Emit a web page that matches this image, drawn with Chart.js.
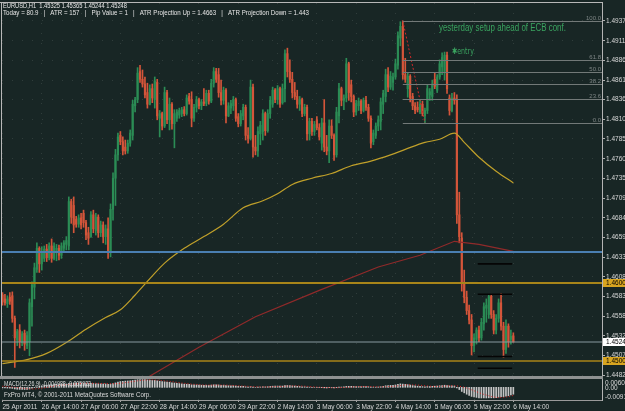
<!DOCTYPE html>
<html>
<head>
<meta charset="utf-8">
<title>EURUSD H1</title>
<script src="https://cdn.jsdelivr.net/npm/chart.js@4.4.1/dist/chart.umd.min.js"></script>
<style>
  html, body { margin: 0; padding: 0; background: #182625; }
  #wrap { position: relative; width: 625px; height: 411px; overflow: hidden; background: #182625; }
  #main { position: absolute; left: 0; top: 0; }
  #macd { position: absolute; left: 0; top: 379px; }
</style>
</head>
<body>
<div id="wrap">
  <canvas id="main" width="625" height="379"></canvas>
  <canvas id="macd" width="625" height="32"></canvas>
</div>
<script>
// Hourly EURUSD bars, 25 Apr 2011 22:00 .. 6 May 2011 14:00
const opens = [
  1.4585, 1.4580, 1.4574, 1.4582, 1.4584, 1.4555, 1.4527, 1.4540, 1.4524, 1.4536,
  1.4520, 1.4525, 1.4570, 1.4595, 1.4618, 1.4645, 1.4625, 1.4632, 1.4644, 1.4633,
  1.4648, 1.4632, 1.4640, 1.4645, 1.4636, 1.4645, 1.4650, 1.4648, 1.4705, 1.4700,
  1.4682, 1.4676, 1.4684, 1.4690, 1.4678, 1.4665, 1.4660, 1.4688, 1.4668, 1.4685,
  1.4665, 1.4675, 1.4660, 1.4670, 1.4640, 1.4695, 1.4735, 1.4765, 1.4790, 1.4782,
  1.4775, 1.4770, 1.4780, 1.4790, 1.4828, 1.4836, 1.4872, 1.4862, 1.4856, 1.4845,
  1.4830, 1.4850, 1.4836, 1.4858, 1.4812, 1.4818, 1.4802, 1.4845, 1.4810, 1.4830,
  1.4805, 1.4812, 1.4816, 1.4818, 1.4823, 1.4818, 1.4840, 1.4836, 1.4812, 1.4826,
  1.4836, 1.4828, 1.4833, 1.4831, 1.4844, 1.4834, 1.4857, 1.4872, 1.4868, 1.4845,
  1.4835, 1.4848, 1.4815, 1.4825, 1.4828, 1.4836, 1.4814, 1.4805, 1.4815, 1.4826,
  1.4790, 1.4786, 1.4852, 1.4775, 1.4770, 1.4792, 1.4795, 1.4818, 1.4796, 1.4818,
  1.4830, 1.4848, 1.4836, 1.4850, 1.4832, 1.4850, 1.4895, 1.4872, 1.4862, 1.4845,
  1.4840, 1.4830, 1.4836, 1.4818, 1.4826, 1.4792, 1.4808, 1.4795, 1.4810, 1.4800,
  1.4780, 1.4806, 1.4775, 1.4770, 1.4802, 1.4790, 1.4765, 1.4815, 1.4850, 1.4835,
  1.4838, 1.4882, 1.4855, 1.4840, 1.4820, 1.4828, 1.4834, 1.4822, 1.4835, 1.4826,
  1.4812, 1.4782, 1.4790, 1.4802, 1.4808, 1.4830, 1.4840, 1.4868, 1.4852, 1.4858,
  1.4865, 1.4880, 1.4915, 1.4930, 1.4868, 1.4850, 1.4866, 1.4840, 1.4828, 1.4826,
  1.4820, 1.4830, 1.4815, 1.4822, 1.4842, 1.4840, 1.4862, 1.4848, 1.4865, 1.4878,
  1.4872, 1.4893, 1.4838, 1.4822, 1.4838, 1.4835, 1.4688, 1.4658, 1.4600, 1.4582,
  1.4565, 1.4553, 1.4520, 1.4528, 1.4540, 1.4530, 1.4548, 1.4568, 1.4560, 1.4583,
  1.4560, 1.4540, 1.4555, 1.4575, 1.4545, 1.4515, 1.4545, 1.4528, 1.45325
];
const highs = [
  1.4588, 1.4586, 1.4584, 1.4588, 1.4589, 1.4558, 1.4541, 1.4547, 1.4538, 1.4540,
  1.4538, 1.4580, 1.4602, 1.4626, 1.4652, 1.4647, 1.4647, 1.4648, 1.4650, 1.4652,
  1.4657, 1.4652, 1.4650, 1.4649, 1.4652, 1.4655, 1.4660, 1.4711, 1.4708, 1.4711,
  1.4686, 1.4688, 1.4690, 1.4694, 1.4681, 1.4672, 1.4692, 1.4694, 1.4690, 1.4688,
  1.4680, 1.4679, 1.4675, 1.4684, 1.4702, 1.4742, 1.4772, 1.4793, 1.4795, 1.4788,
  1.4784, 1.4784, 1.4797, 1.4835, 1.4839, 1.4877, 1.4880, 1.4874, 1.4865, 1.4857,
  1.4855, 1.4856, 1.4865, 1.4862, 1.4822, 1.4820, 1.4852, 1.4848, 1.4838, 1.4832,
  1.4823, 1.4823, 1.4825, 1.4826, 1.4827, 1.4842, 1.4844, 1.4846, 1.4830, 1.4840,
  1.4838, 1.4836, 1.4850, 1.4848, 1.4848, 1.4862, 1.4877, 1.4876, 1.4876, 1.4861,
  1.4852, 1.4850, 1.4832, 1.4835, 1.4840, 1.4838, 1.4818, 1.4822, 1.4830, 1.4829,
  1.4800, 1.4861, 1.4856, 1.4790, 1.4801, 1.4808, 1.4823, 1.4820, 1.4823, 1.4840,
  1.4852, 1.4850, 1.4854, 1.4852, 1.4856, 1.4900, 1.4902, 1.4887, 1.4871, 1.4858,
  1.4848, 1.4840, 1.4838, 1.4830, 1.4829, 1.4812, 1.4812, 1.4808, 1.4814, 1.4805,
  1.4812, 1.4836, 1.4790, 1.4810, 1.4810, 1.4792, 1.4826, 1.4857, 1.4852, 1.4842,
  1.4889, 1.4884, 1.4861, 1.4842, 1.4835, 1.4838, 1.4836, 1.4838, 1.4840, 1.4830,
  1.4815, 1.4797, 1.4806, 1.4815, 1.4838, 1.4848, 1.4875, 1.4877, 1.4872, 1.4870,
  1.4888, 1.4923, 1.4936, 1.4937, 1.4889, 1.4870, 1.4868, 1.4844, 1.4832, 1.4833,
  1.4835, 1.4834, 1.4825, 1.4855, 1.4850, 1.4861, 1.4870, 1.4868, 1.4887, 1.4896,
  1.4897, 1.4897, 1.4842, 1.4844, 1.4845, 1.4842, 1.4717, 1.4665, 1.4617, 1.4590,
  1.4572, 1.4560, 1.4535, 1.4543, 1.4545, 1.4555, 1.4575, 1.4580, 1.4586, 1.4586,
  1.4565, 1.4560, 1.4580, 1.4587, 1.4550, 1.4553, 1.4548, 1.4540, 1.45365
];
const lows = [
  1.4572, 1.4572, 1.4569, 1.4573, 1.4550, 1.4492, 1.4520, 1.4517, 1.4520, 1.4514,
  1.4516, 1.4507, 1.4545, 1.4580, 1.4614, 1.4614, 1.4617, 1.4628, 1.4628, 1.4630,
  1.4627, 1.4630, 1.4629, 1.4630, 1.4632, 1.4640, 1.4643, 1.4643, 1.4677, 1.4665,
  1.4672, 1.4672, 1.4670, 1.4672, 1.4656, 1.4650, 1.4659, 1.4665, 1.4662, 1.4659,
  1.4660, 1.4652, 1.4650, 1.4632, 1.4634, 1.4681, 1.4700, 1.4758, 1.4778, 1.4765,
  1.4766, 1.4767, 1.4776, 1.4784, 1.4820, 1.4832, 1.4858, 1.4852, 1.4838, 1.4825,
  1.4829, 1.4832, 1.4825, 1.4810, 1.4788, 1.4797, 1.4800, 1.4805, 1.4797, 1.4798,
  1.4774, 1.4808, 1.4812, 1.4814, 1.4815, 1.4816, 1.4830, 1.4801, 1.4808, 1.4820,
  1.4824, 1.4823, 1.4828, 1.4828, 1.4830, 1.4832, 1.4852, 1.4858, 1.4839, 1.4829,
  1.4830, 1.4806, 1.4814, 1.4818, 1.4822, 1.4808, 1.4801, 1.4802, 1.4810, 1.4784,
  1.4780, 1.4784, 1.4762, 1.4765, 1.4763, 1.4778, 1.4784, 1.4790, 1.4794, 1.4812,
  1.4826, 1.4832, 1.4830, 1.4826, 1.4830, 1.4833, 1.4865, 1.4858, 1.4838, 1.4836,
  1.4825, 1.4822, 1.4814, 1.4815, 1.4784, 1.4784, 1.4790, 1.4790, 1.4797, 1.4784,
  1.4771, 1.4769, 1.4765, 1.4755, 1.4786, 1.4758, 1.4762, 1.4806, 1.4828, 1.4823,
  1.4833, 1.4835, 1.4833, 1.4814, 1.4816, 1.4822, 1.4818, 1.4820, 1.4822, 1.4808,
  1.4774, 1.4778, 1.4786, 1.4796, 1.4797, 1.4818, 1.4833, 1.4846, 1.4849, 1.4848,
  1.4862, 1.4875, 1.4905, 1.4862, 1.4858, 1.4839, 1.4833, 1.4823, 1.4818, 1.4820,
  1.4818, 1.4815, 1.4806, 1.4818, 1.4835, 1.4835, 1.4850, 1.4845, 1.4862, 1.4868,
  1.4861, 1.4844, 1.4816, 1.4820, 1.4830, 1.4677, 1.4652, 1.4590, 1.4575, 1.4560,
  1.4548, 1.4508, 1.4512, 1.4522, 1.4525, 1.4527, 1.4540, 1.4550, 1.4555, 1.4555,
  1.4535, 1.4535, 1.4550, 1.4540, 1.4505, 1.4510, 1.4518, 1.4522, 1.45244
];
const closes = [
  1.4576, 1.4575, 1.4580, 1.4577, 1.4555, 1.4530, 1.4538, 1.4525, 1.4535, 1.4522,
  1.4533, 1.4575, 1.4598, 1.4620, 1.4645, 1.4625, 1.4640, 1.4644, 1.4633, 1.4648,
  1.4632, 1.4648, 1.4645, 1.4636, 1.4648, 1.4652, 1.4655, 1.4705, 1.4685, 1.4675,
  1.4676, 1.4684, 1.4675, 1.4678, 1.4662, 1.4658, 1.4688, 1.4670, 1.4685, 1.4665,
  1.4675, 1.4660, 1.4670, 1.4640, 1.4695, 1.4735, 1.4765, 1.4788, 1.4782, 1.4770,
  1.4770, 1.4780, 1.4793, 1.4830, 1.4836, 1.4870, 1.4862, 1.4856, 1.4842, 1.4830,
  1.4850, 1.4838, 1.4860, 1.4815, 1.4818, 1.4802, 1.4845, 1.4810, 1.4830, 1.4805,
  1.4818, 1.4820, 1.4822, 1.4823, 1.4818, 1.4838, 1.4834, 1.4812, 1.4826, 1.4836,
  1.4828, 1.4833, 1.4831, 1.4844, 1.4834, 1.4857, 1.4872, 1.4862, 1.4845, 1.4835,
  1.4848, 1.4815, 1.4828, 1.4831, 1.4836, 1.4812, 1.4805, 1.4818, 1.4826, 1.4790,
  1.4786, 1.4852, 1.4775, 1.4770, 1.4795, 1.4803, 1.4818, 1.4796, 1.4818, 1.4835,
  1.4848, 1.4836, 1.4850, 1.4830, 1.4850, 1.4895, 1.4872, 1.4862, 1.4845, 1.4840,
  1.4830, 1.4836, 1.4818, 1.4826, 1.4792, 1.4808, 1.4795, 1.4804, 1.4800, 1.4788,
  1.4806, 1.4775, 1.4770, 1.4802, 1.4790, 1.4765, 1.4820, 1.4850, 1.4835, 1.4838,
  1.4882, 1.4845, 1.4840, 1.4820, 1.4831, 1.4834, 1.4822, 1.4835, 1.4826, 1.4812,
  1.4780, 1.4793, 1.4802, 1.4810, 1.4833, 1.4844, 1.4868, 1.4852, 1.4866, 1.4865,
  1.4882, 1.4918, 1.4930, 1.4868, 1.4862, 1.4866, 1.4838, 1.4828, 1.4822, 1.4823,
  1.4830, 1.4818, 1.4822, 1.4850, 1.4846, 1.4856, 1.4853, 1.4865, 1.4882, 1.4890,
  1.4893, 1.4850, 1.4822, 1.4838, 1.4835, 1.4688, 1.4660, 1.4600, 1.4582, 1.4565,
  1.4553, 1.4520, 1.4530, 1.4540, 1.4530, 1.4550, 1.4570, 1.4572, 1.4583, 1.4560,
  1.4540, 1.4555, 1.4575, 1.4545, 1.4515, 1.4545, 1.4525, 1.4532, 1.45248
];

// MACD(12,26,9) sub-window, same bars
const macdMain = [
  -0.0004, -0.0005, -0.0006, -0.0006, -0.0008, -0.0012, -0.0014, -0.0015, -0.0016, -0.0016, -0.0016,
  -0.0012, -0.0007, -0.0002, 0.0004, 0.0008, 0.0011, 0.0014, 0.0016, 0.0018, 0.0019,
  0.0020, 0.0021, 0.0021, 0.0022, 0.0023, 0.0024, 0.0028, 0.0030, 0.0031, 0.0031,
  0.0031, 0.0031, 0.0031, 0.0030, 0.0028, 0.0028, 0.0027, 0.0027, 0.0026, 0.0025,
  0.0024, 0.0024, 0.0021, 0.0023, 0.0027, 0.0032, 0.0038, 0.0042, 0.0044, 0.0045,
  0.0046, 0.0047, 0.0050, 0.0052, 0.0055, 0.0056, 0.0056, 0.0055, 0.0053, 0.0052,
  0.0050, 0.0050, 0.0047, 0.0044, 0.0041, 0.0040, 0.0037, 0.0036, 0.0033, 0.0031,
  0.0029, 0.0027, 0.0025, 0.0023, 0.0022, 0.0021, 0.0018, 0.0018, 0.0017, 0.0016,
  0.0015, 0.0015, 0.0015, 0.0014, 0.0016, 0.0018, 0.0018, 0.0017, 0.0015, 0.0015,
  0.0012, 0.0011, 0.0011, 0.0011, 0.0009, 0.0007, 0.0007, 0.0007, 0.0004, 0.0002,
  0.0005, 0.0002, 0.0000, 0.0001, 0.0002, 0.0004, 0.0003, 0.0004, 0.0006, 0.0008,
  0.0008, 0.0009, 0.0008, 0.0009, 0.0013, 0.0013, 0.0012, 0.0010, 0.0009, 0.0007,
  0.0006, 0.0004, 0.0004, 0.0001, 0.0001, 0.0000, 0.0000, 0.0000, -0.0002, -0.0002,
  -0.0004, -0.0005, -0.0003, -0.0003, -0.0005, -0.0002, 0.0002, 0.0002, 0.0003, 0.0007,
  0.0007, 0.0007, 0.0006, 0.0006, 0.0006, 0.0005, 0.0005, 0.0005, 0.0004, 0.0001,
  0.0001, 0.0001, 0.0002, 0.0004, 0.0007, 0.0011, 0.0012, 0.0014, 0.0015, 0.0017,
  0.0021, 0.0025, 0.0023, 0.0021, 0.0019, 0.0016, 0.0013, 0.0010, 0.0008, 0.0007,
  0.0005, 0.0004, 0.0006, 0.0006, 0.0007, 0.0008, 0.0009, 0.0011, 0.0013, 0.0015,
  0.0013, 0.0010, 0.0010, 0.0009, -0.0004, -0.0016, -0.0030, -0.0040, -0.0050, -0.0058,
  -0.0066, -0.0070, -0.0073, -0.0076, -0.0077, -0.0077, -0.0077, -0.0076, -0.0076, -0.0076,
  -0.0074, -0.0071, -0.0068, -0.0068, -0.0064, -0.0061, -0.0055, -0.0050
];
const macdSignal = [
  0.0008, 0.0006, 0.0005, 0.0003, 0.0002, 0.0000, -0.0002, -0.0004, -0.0006, -0.0008, -0.0010,
  -0.0011, -0.0012, -0.0012, -0.0011, -0.0009, -0.0007, -0.0004, -0.0001, 0.0002, 0.0006,
  0.0009, 0.0012, 0.0014, 0.0016, 0.0018, 0.0019, 0.0020, 0.0022, 0.0023, 0.0025,
  0.0026, 0.0027, 0.0028, 0.0029, 0.0030, 0.0030, 0.0029, 0.0029, 0.0029, 0.0028,
  0.0027, 0.0027, 0.0026, 0.0026, 0.0026, 0.0026, 0.0027, 0.0029, 0.0031, 0.0034,
  0.0036, 0.0039, 0.0042, 0.0044, 0.0047, 0.0049, 0.0051, 0.0052, 0.0053, 0.0054,
  0.0054, 0.0053, 0.0052, 0.0051, 0.0049, 0.0047, 0.0045, 0.0043, 0.0041, 0.0038,
  0.0036, 0.0034, 0.0031, 0.0029, 0.0027, 0.0025, 0.0023, 0.0022, 0.0021, 0.0019,
  0.0018, 0.0017, 0.0016, 0.0016, 0.0016, 0.0016, 0.0016, 0.0016, 0.0016, 0.0016,
  0.0016, 0.0015, 0.0014, 0.0013, 0.0012, 0.0011, 0.0010, 0.0009, 0.0008, 0.0007,
  0.0006, 0.0005, 0.0004, 0.0004, 0.0003, 0.0003, 0.0003, 0.0003, 0.0003, 0.0004,
  0.0005, 0.0006, 0.0006, 0.0007, 0.0008, 0.0009, 0.0010, 0.0010, 0.0010, 0.0010,
  0.0009, 0.0009, 0.0008, 0.0007, 0.0005, 0.0004, 0.0003, 0.0002, 0.0001, 0.0000,
  -0.0001, -0.0002, -0.0002, -0.0003, -0.0003, -0.0003, -0.0003, -0.0002, -0.0001, 0.0000,
  0.0001, 0.0002, 0.0003, 0.0004, 0.0005, 0.0005, 0.0006, 0.0006, 0.0006, 0.0005,
  0.0005, 0.0004, 0.0003, 0.0003, 0.0004, 0.0004, 0.0005, 0.0006, 0.0007, 0.0009,
  0.0011, 0.0013, 0.0015, 0.0017, 0.0018, 0.0018, 0.0018, 0.0017, 0.0016, 0.0015,
  0.0013, 0.0011, 0.0010, 0.0008, 0.0007, 0.0007, 0.0007, 0.0007, 0.0008, 0.0009,
  0.0010, 0.0010, 0.0011, 0.0011, 0.0010, 0.0008, 0.0004, 0.0000, -0.0005, -0.0011,
  -0.0018, -0.0025, -0.0032, -0.0039, -0.0045, -0.0051, -0.0056, -0.0061, -0.0066, -0.0070,
  -0.0072, -0.0073, -0.0073, -0.0072, -0.0070, -0.0067, -0.0063, -0.0059
];

// moving averages: [bar, price]
const maYellow = [
  [0, 1.4497], [10, 1.4502], [18, 1.4510], [26, 1.4524], [34, 1.4541], [42, 1.4556],
  [48, 1.4566], [54, 1.4585], [60, 1.4606], [66, 1.4626], [74, 1.4645], [82, 1.4660],
  [90, 1.4676], [98, 1.4697], [106, 1.4706], [112, 1.4715], [118, 1.4727], [126, 1.4735],
  [134, 1.4741], [142, 1.4751], [150, 1.4757], [158, 1.4765], [164, 1.4772], [172, 1.4781],
  [178, 1.4785], [184, 1.4793], [188, 1.4781], [194, 1.4762], [201, 1.4744], [208, 1.4729]
];
const maRed = [
  [48, 1.4468], [59, 1.4479], [80, 1.4518], [103, 1.4557], [129, 1.4591],
  [153, 1.4621], [170, 1.4636], [184, 1.4654], [194, 1.4650], [208, 1.4641]
];

// right axis, values as MT4 printed them
const priceTicks = [
  1.49370, 1.49115, 1.48865, 1.48610, 1.48360, 1.48105, 1.47855, 1.47600, 1.47350, 1.47095,
  1.46840, 1.46590, 1.46335, 1.46085, 1.45830, 1.45580, 1.45325, 1.45075, 1.44820
];
const markedPrices = [1.46000, 1.45248, 1.45000];

// time axis
const timeTickBars = [0, 16, 32, 48, 64, 80, 96, 112, 128, 144, 160, 176, 192, 208];
const timeLabels = [
  '25 Apr 2011', '26 Apr 14:00', '27 Apr 06:00', '27 Apr 22:00', '28 Apr 14:00',
  '29 Apr 06:00', '29 Apr 22:00', '2 May 14:00', '3 May 06:00', '3 May 22:00',
  '4 May 14:00', '5 May 06:00', '5 May 22:00', '6 May 14:00'
];

// horizontal objects
const levelPrices = [1.4640, 1.4600, 1.45248, 1.4500];
const rangeLines = [1.4625, 1.4601, 1.4586, 1.4506, 1.4491];
const rangeBars = [193.5, 207.5];

// fibo retracement from the 4 May high to the low that followed
const fibHigh = { bar: 163, price: 1.4937 };
const fibLow = { bar: 172, price: 1.4806 };
const fibRatios = [100, 61.8, 50, 38.2, 23.6, 0];

// ---- styling ----
const GRID = '#303d3b';
const UP = '#2b8c55';
const DOWN = '#d4553a';
const TXT = '#d8d8d8';
const FONT = "'Liberation Sans', Arial, sans-serif";
const AXIS_FONT = "'Liberation Sans Narrow', 'Liberation Sans', sans-serif";
const X_MIN = -0.2, X_MAX = 244.1;
const levelStyles = [
  { color: '#4a7fb2', width: 2 },
  { color: '#a88519', width: 2 },
  { color: '#8899a0', width: 1 },
  { color: '#a88519', width: 1.5 }
];
const markStyles = ['#d9a520', '#ffffff', '#d9a520'];

const barIdx = opens.map((_, i) => i);
const candleColors = closes.map((c, i) => (c >= opens[i] ? UP : DOWN));

// text squeezed to the width it takes in the screenshot
function fitText(ctx, str, x, y, w, size, color, family) {
  ctx.save();
  ctx.font = size + 'px ' + (family || FONT);
  ctx.fillStyle = color;
  ctx.textAlign = 'left';
  ctx.textBaseline = 'middle';
  const natural = ctx.measureText(str).width;
  ctx.translate(x, y);
  ctx.scale(w / natural, 1);
  ctx.fillText(str, 0, 0);
  ctx.restore();
}

function hLine(ctx, x1, x2, y) {
  ctx.beginPath();
  ctx.moveTo(x1, y);
  ctx.lineTo(x2, y);
  ctx.stroke();
}

const mainDecor = {
  id: 'mainDecor',
  afterDatasetsDraw(chart) {
    const { ctx, chartArea: a, scales: { x, y } } = chart;
    ctx.save();
    ctx.beginPath();
    ctx.rect(a.left, a.top, a.right - a.left, a.bottom - a.top);
    ctx.clip();

    levelPrices.forEach((p, k) => {
      ctx.strokeStyle = levelStyles[k].color;
      ctx.lineWidth = levelStyles[k].width;
      hLine(ctx, a.left, a.right, Math.round(y.getPixelForValue(p)));
    });

    const fx = x.getPixelForValue(fibHigh.bar);
    fibRatios.forEach(r => {
      const p = fibLow.price + (fibHigh.price - fibLow.price) * r / 100;
      const py = Math.round(y.getPixelForValue(p)) + 0.5;
      ctx.strokeStyle = '#727978';
      ctx.lineWidth = 1;
      hLine(ctx, fx, a.right, py);
      ctx.font = '6px ' + FONT;
      ctx.fillStyle = '#7e8585';
      ctx.textAlign = 'right';
      ctx.textBaseline = 'bottom';
      ctx.fillText(r.toFixed(1), a.right - 1, py - 0.5);
    });
    ctx.restore();
  },
  afterDraw(chart) {
    const { ctx, chartArea: a, scales: { x, y } } = chart;

    // frame and separator towards the MACD window
    ctx.save();
    ctx.fillStyle = '#b8b8b8';
    ctx.fillRect(0, 2, a.right + 1, 1);
    ctx.fillRect(1, 2, 1, a.bottom - 2);
    ctx.fillStyle = '#8f9292';
    ctx.fillRect(0, a.bottom, a.right + 1, 3);
    ctx.restore();

    // header
    fitText(ctx, 'EURUSD,H1  1.45325 1.45365 1.45244 1.45248', 3, 6, 124, 7, '#e6e6e6');
    fitText(ctx, 'Today = 80.9   |   ATR = 157   |   Pip Value = 1   |   ATR Projection Up = 1.4663   |   ATR Projection Down = 1.443',
      3, 13, 306, 7, '#e6e6e6');

    // chart notes
    fitText(ctx, 'yesterday setup ahead of ECB conf.', x.getPixelForValue(177.7), y.getPixelForValue(1.4928), 127, 10, '#3aa35f');
    fitText(ctx, '\u2731entry', x.getPixelForValue(183), y.getPixelForValue(1.4897), 22, 9, '#3aa35f', "'DejaVu Sans', sans-serif");

    // highlighted prices on the axis
    markedPrices.forEach((p, k) => {
      const py = Math.round(y.getPixelForValue(p));
      ctx.fillStyle = markStyles[k];
      ctx.fillRect(a.right + 1, py - 4, 625 - a.right, 8);
      ctx.font = '6.5px ' + AXIS_FONT;
      ctx.fillStyle = '#000000';
      ctx.textAlign = 'left';
      ctx.textBaseline = 'middle';
      ctx.fillText(p.toFixed(5), a.right + 4, py);
    });
  }
};

new Chart(document.getElementById('main'), {
  type: 'bar',
  data: {
    datasets: [
      {
        type: 'line', order: 0,
        data: [{ x: fibHigh.bar, y: fibHigh.price }, { x: fibLow.bar, y: fibLow.price }],
        borderColor: '#d42a2a', borderWidth: 1, borderDash: [2, 2], pointRadius: 0
      },
      ...rangeLines.map(p => ({
        type: 'line', order: 0,
        data: [{ x: rangeBars[0], y: p }, { x: rangeBars[1], y: p }],
        borderColor: '#050505', borderWidth: 1.6, pointRadius: 0
      })),
      {
        type: 'line', order: 1,
        data: maYellow.map(p => ({ x: p[0], y: p[1] })),
        borderColor: '#c0a02a', borderWidth: 1.2, pointRadius: 0, cubicInterpolationMode: 'monotone'
      },
      {
        type: 'line', order: 2,
        data: maRed.map(p => ({ x: p[0], y: p[1] })),
        borderColor: '#902a2a', borderWidth: 1.2, pointRadius: 0
      },
      {
        type: 'bar', order: 10, grouped: false,
        data: barIdx.map(i => ({ x: i, y: [opens[i], closes[i]] })),
        backgroundColor: candleColors, barThickness: 1.5, minBarLength: 1
      },
      {
        type: 'bar', order: 11, grouped: false,
        data: barIdx.map(i => ({ x: i, y: [lows[i], highs[i]] })),
        backgroundColor: candleColors, barThickness: 1
      }
    ]
  },
  options: {
    responsive: false,
    animation: false,
    events: [],
    layout: { padding: { left: 2, top: 3, right: 0, bottom: 3 } },
    plugins: { legend: { display: false }, tooltip: { enabled: false } },
    scales: {
      x: {
        type: 'linear', min: X_MIN, max: X_MAX, offset: false,
        afterBuildTicks: s => { s.ticks = timeTickBars.map(v => ({ value: v })); },
        afterFit: s => { s.height = 0; s.paddingLeft = 0; s.paddingRight = 0; },
        ticks: { display: false },
        grid: { color: GRID, drawTicks: false, offset: false },
        border: { display: false, dash: [1, 9] }
      },
      y: {
        type: 'linear', position: 'right', min: 1.4481, max: 1.4960,
        afterBuildTicks: s => { s.ticks = priceTicks.map(v => ({ value: v })); },
        afterFit: s => { s.width = 23; s.paddingTop = 0; s.paddingBottom = 0; },
        ticks: {
          autoSkip: false, color: TXT, padding: 1,
          font: { family: AXIS_FONT, size: 6.5 },
          callback: v => v.toFixed(5)
        },
        grid: { color: GRID, tickColor: '#b0b0b0', tickLength: 3, tickBorderDash: [] },
        border: { display: true, color: '#b4b4b4', width: 1, dash: [1, 9] }
      }
    }
  },
  plugins: [mainDecor]
});

const macdDecor = {
  id: 'macdDecor',
  afterDraw(chart) {
    const { ctx, chartArea: a, scales: { y } } = chart;
    fitText(ctx, 'MACD(12,26,9) -0.004988 -0.005922', 4, 5, 87, 7, '#dcdcdc');
    fitText(ctx, 'FxPro MT4, \u00a9 2001-2011 MetaQuotes Software Corp.', 4, 16, 147, 7, '#dcdcdc');
    ctx.save();
    ctx.font = '6.5px ' + AXIS_FONT;
    ctx.fillStyle = TXT;
    ctx.textAlign = 'left';
    ctx.textBaseline = 'middle';
    ctx.fillText('0.006000', a.right + 3, y.getPixelForValue(0.006) + 4);
    ctx.fillText('0.00', a.right + 3, y.getPixelForValue(0) + 0.5);
    ctx.fillText('-0.00917', a.right + 3, y.getPixelForValue(-0.00917) - 3);
    ctx.restore();
  }
};

new Chart(document.getElementById('macd'), {
  type: 'bar',
  data: {
    datasets: [
      {
        type: 'line', order: 0,
        data: barIdx.map(i => ({ x: i, y: macdSignal[i] })),
        borderColor: '#e02424', borderWidth: 1, borderDash: [1, 2], pointRadius: 0
      },
      {
        type: 'bar', order: 1,
        data: barIdx.map(i => ({ x: i, y: macdMain[i] })),
        backgroundColor: '#c4c4c4', barThickness: 1
      }
    ]
  },
  options: {
    responsive: false,
    animation: false,
    events: [],
    layout: { padding: { left: 2, top: 0, right: 0, bottom: 0 } },
    plugins: { legend: { display: false }, tooltip: { enabled: false } },
    scales: {
      x: {
        type: 'linear', min: X_MIN, max: X_MAX, offset: false,
        afterBuildTicks: s => { s.ticks = timeTickBars.map(v => ({ value: v })); },
        afterFit: s => { s.height = 11; s.paddingLeft = 0; s.paddingRight = 0; },
        ticks: {
          autoSkip: false, maxRotation: 0, minRotation: 0, align: 'start', padding: 1,
          color: TXT, font: { family: AXIS_FONT, size: 6.5 },
          callback: (v, k) => timeLabels[k]
        },
        grid: { color: GRID, tickColor: '#a8a8a8', tickLength: 2, tickBorderDash: [], offset: false },
        border: { display: true, color: '#9a9a9a', dash: [1, 9] }
      },
      y: {
        type: 'linear', position: 'right', min: -0.00917, max: 0.006,
        afterFit: s => { s.width = 23; s.paddingTop = 0; s.paddingBottom = 0; },
        ticks: { display: false },
        grid: { display: false },
        border: { display: true, color: '#b4b4b4' }
      }
    }
  },
  plugins: [macdDecor]
});
</script>
</body>
</html>
